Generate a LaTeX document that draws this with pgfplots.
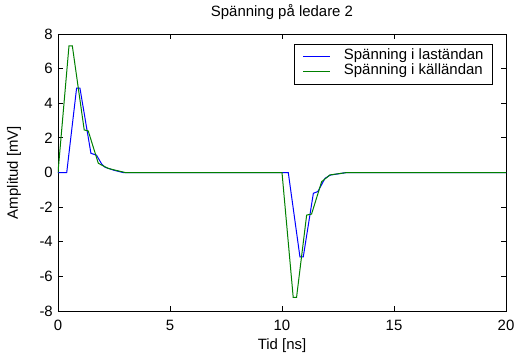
\documentclass[border=0pt]{standalone}
\usepackage{fontspec}
\setmainfont{Liberation Sans}
\usepackage{pgfplots}
\pgfplotsset{compat=1.18}
\definecolor{mblue}{RGB}{0,0,255}
\definecolor{mgreen}{RGB}{0,128,0}
\newcommand{\ff}{\fontsize{15}{17}\selectfont}
\begin{document}
\begin{tikzpicture}
\useasboundingbox (-58bp,-49bp) rectangle (462bp,311bp);
\begin{axis}[
  at={(0,0)}, anchor=south west,
  scale only axis, width=448bp, height=277bp,
  xmin=0, xmax=20, ymin=-8, ymax=8,
  xtick={0,5,10,15,20}, xticklabels={0,5,10,15,20},
  ytick={-8,-6,-4,-2,0,2,4,6,8}, yticklabels={-8,-6,-4,-2,0,2,4,6,8},
  tick align=inside, tick pos=both, major tick length=5bp,
  axis line style={line width=0.9bp}, every tick/.style={black, line width=0.9bp},
  xticklabel style={font=\ff, anchor=base, inner sep=0pt, yshift=-19.5bp},
  yticklabel style={font=\ff, anchor=east, inner sep=0pt, xshift=-5bp},
  title={Spänning på ledare 2},
  title style={font=\ff, at={(axis description cs:0.5,1.0433)}, anchor=base, inner sep=0pt},
  xlabel={Tid [ns]},
  xlabel style={font=\ff, at={(axis description cs:0.5,-0.1372)}, anchor=base, inner sep=0pt},
  ylabel={Amplitud [mV]},
  ylabel style={font=\ff, at={(axis description cs:-0.0893,0.5)}, anchor=base, inner sep=0pt, rotate=0},
  legend cell align=left,
  legend style={font=\ff, at={(axis description cs:0.971,0.964)}, anchor=north east,
    draw=black, line width=0.9bp, fill=white, inner xsep=9bp, inner ysep=5bp,
    nodes={inner sep=0pt, text height=10.5bp, text depth=4.5bp},
    /tikz/every odd column/.append style={column sep=13bp}},
  legend image code/.code={\draw[#1, line width=1bp] (0bp,0bp) -- (27bp,0bp);},
]
\addplot[mblue, line width=1bp] coordinates {
 (0,0) (0.39,0) (0.83,4.87) (0.98,4.87) (1.47,1.11) (1.72,1.0) (1.95,0.49) (2.1,0.3)
 (2.47,0.14) (2.9,0) (10.28,0) (10.8,-4.87) (10.95,-4.87) (11.4,-1.2) (11.6,-1.1)
 (11.92,-0.34) (12.15,-0.15) (12.9,0) (20,0)};
\addlegendentry{Spänning i laständan}
\addplot[mgreen, line width=1bp] coordinates {
 (0,0) (0.49,7.31) (0.64,7.31) (1.17,2.46) (1.35,2.4) (1.8,0.53) (2.24,0.24)
 (2.54,0.14) (3.0,0) (10.0,0) (10.5,-7.21) (10.65,-7.21) (11.1,-2.46) (11.32,-2.4)
 (11.77,-0.53) (12.14,-0.14) (12.9,0) (20,0)};
\addlegendentry{Spänning i källändan}
\end{axis}
\end{tikzpicture}
\end{document}
